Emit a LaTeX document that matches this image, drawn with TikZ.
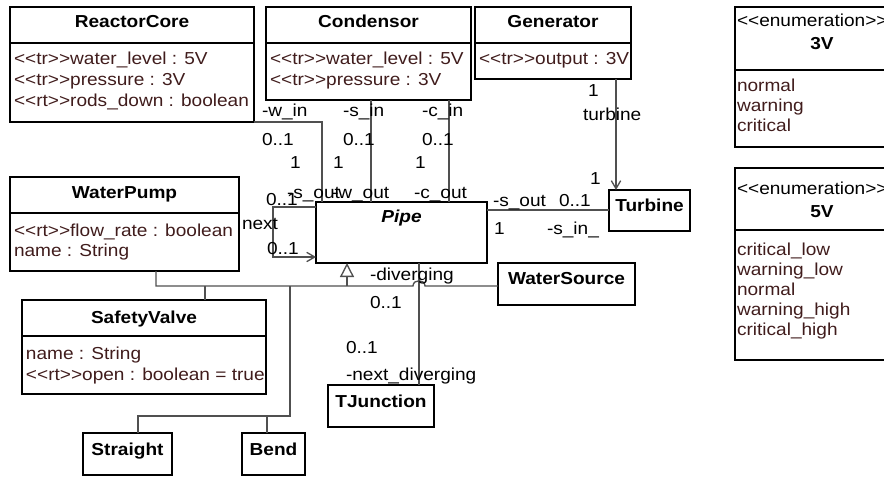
\documentclass[tikz,border=0pt]{standalone}
\usepackage{fontspec}
\setmainfont{Liberation Sans}[FakeStretch=1.1]
\usetikzlibrary{arrows.meta,calc}
\definecolor{attrc}{RGB}{64,28,28}
\definecolor{connc}{RGB}{80,80,80}
\newcommand{\stereo}[1]{<\kern0pt<#1>\kern0pt>}
\begin{document}
\begin{tikzpicture}[x=0.75pt,y=-0.75pt,
  every node/.style={font=\fontsize{13}{15}\selectfont, inner sep=0pt, outer sep=0pt},
  umlbox/.style={draw=black, line width=1.1pt, rectangle, anchor=north west},
  sz/.style 2 args={minimum width=#1*0.75pt, minimum height=#2*0.75pt},
  divider/.style={draw=black, line width=1.1pt},
  ttl/.style={anchor=base, font=\fontsize{13}{15}\selectfont\bfseries},
  attr/.style={anchor=base west, text=attrc},
  lbl/.style={anchor=base west, text=black},
  conn/.style={draw=connc, line width=1pt},
  openarrow/.style={-{Straight Barb[length=6pt,width=7pt]}},
  genarrow/.style={-{Triangle[open,length=10.5pt,width=10.5pt]}},
]
\useasboundingbox (0,0) rectangle (884,477);

% boxes
\node[umlbox,sz={244}{115}] (rc) at (10,7) {};
\node[umlbox,sz={205}{93}] (cond) at (266,7) {};
\node[umlbox,sz={156}{72}] (gen) at (475,7) {};
\node[umlbox,sz={81}{41}] (turb) at (609,190) {};
\node[umlbox,sz={171}{61}] (pipe) at (316,202) {};
\node[umlbox,sz={229}{94}] (wp) at (10,177) {};
\node[umlbox,sz={244}{94}] (sv) at (22,300) {};
\node[umlbox,sz={89}{42}] (str) at (83,433) {};
\node[umlbox,sz={63}{42}] (bend) at (242,433) {};
\node[umlbox,sz={106}{42}] (tj) at (328,385) {};
\node[umlbox,sz={137}{42}] (ws) at (498,263) {};
\node[umlbox,sz={180}{140}] (e3) at (735,7) {};
\node[umlbox,sz={180}{192}] (e5) at (735,168) {};

% dividers
\draw[divider] (rc.west |- 0,43) -- (rc.east |- 0,43);
\draw[divider] (cond.west |- 0,43) -- (cond.east |- 0,43);
\draw[divider] (gen.west |- 0,43) -- (gen.east |- 0,43);
\draw[divider] (wp.west |- 0,213) -- (wp.east |- 0,213);
\draw[divider] (sv.west |- 0,336) -- (sv.east |- 0,336);
\draw[divider] (e3.west |- 0,70) -- (e3.east |- 0,70);
\draw[divider] (e5.west |- 0,230) -- (e5.east |- 0,230);

% titles
\node[ttl] (rct) at (rc.north |- 0,28) {ReactorCore};
\node[ttl] (condt) at (cond.north |- 0,28) {Condensor};
\node[ttl] (gent) at (gen.north |- 0,28) {Generator};
\node[ttl] (turbt) at (turb.north |- 0,212) {Turbine};
\node[ttl,font=\fontsize{13}{15}\selectfont\bfseries\itshape] (pipet) at (pipe.north |- 0,223) {Pipe};
\node[ttl] (wpt) at (wp.north |- 0,199) {WaterPump};
\node[ttl] (svt) at (sv.north |- 0,323) {SafetyValve};
\node[ttl] (strt) at (str.north |- 0,455) {Straight};
\node[ttl] (bendt) at (bend.north |- 0,455) {Bend};
\node[ttl] (tjt) at (tj.north |- 0,407) {TJunction};
\node[ttl] (wst) at (ws.north |- 0,284) {WaterSource};
\node[lbl] (e3s) at (737,27) {\stereo{enumeration}};
\node[ttl] (e3t) at (822,50) {3V};
\node[lbl] (e5s) at (737,195) {\stereo{enumeration}};
\node[ttl] (e5t) at (822,218) {5V};

% attributes
\node[attr] (rc1) at (14,65) {\stereo{tr}water\_level : 5V};
\node[attr] (rc2) at (14,86) {\stereo{tr}pressure : 3V};
\node[attr] (rc3) at (14,107) {\stereo{rt}rods\_down : boolean};
\node[attr] (cd1) at (270,65) {\stereo{tr}water\_level : 5V};
\node[attr] (cd2) at (270,86) {\stereo{tr}pressure : 3V};
\node[attr] (gn1) at (479,65) {\stereo{tr}output : 3V};
\node[attr] (wp1) at (14,236) {\stereo{rt}flow\_rate : boolean};
\node[attr] (wp2) at (14,257) {name : String};
\node[attr] (sv1) at (26,359) {name : String};
\node[attr] (sv2) at (26,380) {\stereo{rt}open : boolean = true};
\node[attr] (e31) at (737,92) {normal};
\node[attr] (e32) at (737,112) {warning};
\node[attr] (e33) at (737,132) {critical};
\node[attr] (e51) at (737,255) {critical\_low};
\node[attr] (e52) at (737,275) {warning\_low};
\node[attr] (e53) at (737,295) {normal};
\node[attr] (e54) at (737,315) {warning\_high};
\node[attr] (e55) at (737,335) {critical\_high};

% connectors
\draw[conn] (rc.south east) -| (pipe.north -| 322,0);
\draw[conn] (cond.south -| 371,0) -- (pipe.north -| 371,0);
\draw[conn] (cond.south -| 449,0) -- (pipe.north -| 449,0);
\draw[conn,openarrow] (pipe.west |- 0,207) -- (273,207) -- (273,257) -- (pipe.west |- 0,257);
\draw[conn] (pipe.east |- 0,210) -- (turb.west |- 0,210);
\draw[conn,openarrow] (gen.south -| 616,0) -- (turb.north -| 616,0);
\draw[conn] (pipe.south -| 419,0) -- (tj.north -| 419,0);
\draw[conn] (wp.south -| 156,0) -- (156,286) -- (413,286) .. controls (413,279) and (425,279) .. (425,286) -- (ws.west |- 0,286);
\draw[conn,genarrow] (347,286) -- (pipe.south -| 347,0);
\draw[conn] (sv.north -| 205,0) -- (205,286);
\draw[conn] (str.north -| 138,0) -- (138,416) -- (290,416) -- (290,286);
\draw[conn] (bend.north -| 267,0) -- (267,416);

% connector labels
\node[lbl] (l1) at (262,117) {-w\_in};
\node[lbl] (l2) at (262,146) {0..1};
\node[lbl] (l3) at (290,169) {1};
\node[lbl] (l4) at (343,117) {-s\_in};
\node[lbl] (l5) at (343,146) {0..1};
\node[lbl] (l6) at (333,169) {1};
\node[lbl] (l7) at (422,117) {-c\_in};
\node[lbl] (l8) at (422,146) {0..1};
\node[lbl] (l9) at (415,169) {1};
\node[lbl] (l10) at (287,199) {-s\_out};
\node[lbl] (l11) at (332,199) {-w\_out};
\node[lbl] (l12) at (414,199) {-c\_out};
\node[lbl] (l13) at (266,205) {0..1};
\node[lbl] (l14) at (242,229) {next};
\node[lbl] (l15) at (267,254) {0..1};
\node[lbl] (l16) at (493,207) {-s\_out};
\node[lbl] (l17) at (559,207) {0..1};
\node[lbl] (l18) at (590,185) {1};
\node[lbl] (l19) at (494,234) {1};
\node[lbl] (l20) at (547,234) {-s\_in\_};
\node[lbl] (l21) at (588,97) {1};
\node[lbl] (l22) at (583,121) {turbine};
\node[lbl] (l23) at (370,280) {-diverging};
\node[lbl] (l24) at (370,308) {0..1};
\node[lbl] (l25) at (346,353) {0..1};
\node[lbl] (l26) at (346,380) {-next\_diverging};
\end{tikzpicture}
\end{document}
